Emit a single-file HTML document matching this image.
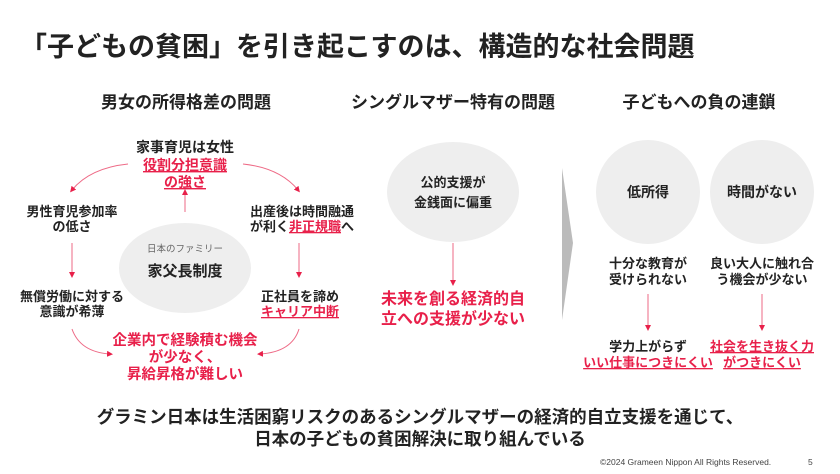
<!DOCTYPE html>
<html><head><meta charset="utf-8"><style>
body{margin:0;background:#fff}
svg{display:block}
text{font-family:"Liberation Sans","Noto Sans CJK JP",sans-serif;font-weight:bold;fill:#222}
.r{fill:#e8204a}
.s{font-size:13px}
</style></head><body>
<svg width="840" height="474" viewBox="0 0 840 474">
<defs><marker id="a" markerWidth="6" markerHeight="6" refX="3" refY="3" orient="auto"><path d="M0,0 L6,3 L0,6z" fill="#e8204a"/></marker></defs>
<text x="20" y="56" font-size="27">「子どもの貧困」を引き起こすのは、構造的な社会問題</text>
<g font-size="17" text-anchor="middle">
<text x="186" y="108">男女の所得格差の問題</text>
<text x="453" y="108">シングルマザー特有の問題</text>
<text x="699" y="108">子どもへの負の連鎖</text>
</g>
<g fill="none" stroke="#ee6a86" stroke-width="1">
<path d="M128,164 Q90,168 72,190" marker-end="url(#a)"/>
<path d="M243,164 Q280,168 298,190" marker-end="url(#a)"/>
<path d="M185,212 L185,192" marker-end="url(#a)"/>
<path d="M72,243 L72,275" marker-end="url(#a)"/>
<path d="M299,243 L299,275" marker-end="url(#a)"/>
<path d="M72,329 Q80,352 110,354" marker-end="url(#a)"/>
<path d="M299,329 Q292,352 260,354" marker-end="url(#a)"/>
<path d="M453,243 L453,283" marker-end="url(#a)"/>
<path d="M648,294 L648,328" marker-end="url(#a)"/>
<path d="M762,294 L762,328" marker-end="url(#a)"/>
</g>
<ellipse cx="185" cy="268" rx="66" ry="45" fill="#eeeeee"/>
<ellipse cx="453" cy="192" rx="66" ry="50" fill="#eeeeee"/>
<circle cx="648" cy="192" r="52" fill="#eeeeee"/>
<circle cx="762" cy="192" r="52" fill="#eeeeee"/>
<polygon points="562,168 573,243 562,320" fill="#bbb"/>
<g text-anchor="middle" class="s">
<text x="185" y="152" font-size="14">家事育児は女性</text>
<text x="185" y="170" font-size="14" class="r" text-decoration="underline">役割分担意識</text>
<text x="185" y="187" font-size="14" class="r" text-decoration="underline">の強さ</text>
<text x="72" y="216">男性育児参加率</text>
<text x="72" y="231">の低さ</text>
<text x="302" y="216">出産後は時間融通</text>
<text x="302" y="231">が利く<tspan class="r" text-decoration="underline">非正規職</tspan>へ</text>
<text x="185" y="252" font-size="9.5" style="font-weight:normal;fill:#666">日本のファミリー</text>
<text x="185" y="276" font-size="15">家父長制度</text>
<text x="72" y="301">無償労働に対する</text>
<text x="72" y="316">意識が希薄</text>
<text x="300" y="301">正社員を諦め</text>
<text x="300" y="316" class="r" text-decoration="underline">キャリア中断</text>
<text x="185" y="345" font-size="14.5" class="r">企業内で経験積む機会</text>
<text x="185" y="362" font-size="14.5" class="r">が少なく、</text>
<text x="185" y="379" font-size="14.5" class="r">昇給昇格が難しい</text>
<text x="453" y="187">公的支援が</text>
<text x="453" y="207">金銭面に偏重</text>
<text x="453" y="304" font-size="16" class="r">未来を創る経済的自</text>
<text x="453" y="324" font-size="16" class="r">立への支援が少ない</text>
<text x="648" y="197" font-size="14">低所得</text>
<text x="762" y="197" font-size="14">時間がない</text>
<text x="648" y="268">十分な教育が</text>
<text x="648" y="284">受けられない</text>
<text x="762" y="268">良い大人に触れ合</text>
<text x="762" y="284">う機会が少ない</text>
<text x="648" y="351">学力上がらず</text>
<text x="648" y="367" class="r" text-decoration="underline">いい仕事につきにくい</text>
<text x="762" y="351" class="r" text-decoration="underline">社会を生き抜く力</text>
<text x="762" y="367" class="r" text-decoration="underline">がつきにくい</text>
<text x="420" y="423" font-size="17.5">グラミン日本は生活困窮リスクのあるシングルマザーの経済的自立支援を通じて、</text>
<text x="420" y="445" font-size="17.5">日本の子どもの貧困解決に取り組んでいる</text>
</g>
<text x="600" y="465" font-size="8.5" style="font-weight:normal;fill:#444">©2024 Grameen Nippon All Rights Reserved.</text>
<text x="808" y="465" font-size="8.5" style="font-weight:normal;fill:#444">5</text>
</svg>
</body></html>
